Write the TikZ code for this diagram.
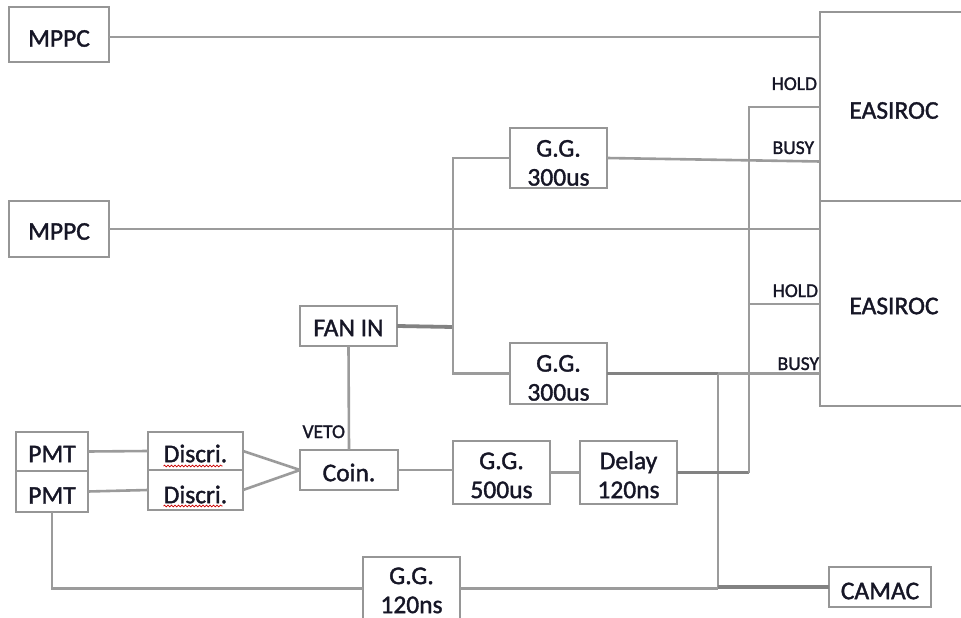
\documentclass[tikz,border=0pt]{standalone}
\usepackage{fontspec}
\setmainfont{Carlito}[BoldFont=Carlito, BoldFeatures={FakeBold=1.4}]
\usetikzlibrary{decorations.pathmorphing,calc}
\definecolor{ln}{RGB}{155,155,155}
\definecolor{lnd}{RGB}{130,130,130}
\definecolor{bx}{RGB}{150,150,150}
\definecolor{tx}{RGB}{22,22,38}
\newcommand\dn[2]{\raisebox{-#1}[\height][\depth]{#2}}
\newcommand\one[1]{\rule{0pt}{16.4bp}\smash{#1}}
\newcommand\twoln[2]{\vbox{\baselineskip=29bp\lineskiplimit=-100bp\halign{\hfil##\hfil\cr\rule{0pt}{16.4bp}\smash{#1}\cr#2\cr}}}
\tikzset{
  box/.style={draw=bx, line width=2.2bp, inner sep=0pt, outer sep=0pt, fill=white, text=tx,
    font=\fontsize{25.5bp}{29bp}\selectfont\bfseries},
  lab/.style={inner sep=0pt, outer sep=0pt, anchor=base east, text=tx,
    font=\fontsize{19.5bp}{22bp}\selectfont\bfseries},
  wire/.style={draw=ln, line width=2.6bp},
  thk/.style={draw=lnd, line width=3.8bp},
  squig/.style={draw=red!80!black, line width=0.7bp, decorate,
    decoration={snake, amplitude=0.9bp, segment length=3.5bp}}
}
\begin{document}
\begin{tikzpicture}[x=1bp,y=-1bp]
\useasboundingbox (0,0) rectangle (961,618);
\clip (0,0) rectangle (961,618);
\fill[white] (0,0) rectangle (961,618);

% boxes
\node[box, minimum width=100bp, minimum height=55bp] (mppc1) at (59,34.5) {\dn{4bp}{\one{MPPC}}};
\node[box, minimum width=100bp, minimum height=56bp] (mppc2) at (59,229) {\dn{2.5bp}{\one{MPPC}}};
\node[box, minimum width=148bp, minimum height=189bp] (easi1) at (894,106.5) {\dn{4bp}{\one{EASIROC}}};
\node[box, minimum width=148bp, minimum height=205bp] (easi2) at (894,303.5) {\dn{2.5bp}{\one{EASIROC}}};
\node[box, minimum width=97bp, minimum height=60bp] (gg1) at (558.5,158) {\dn{5bp}{\twoln{G.G.}{300us}}};
\node[box, minimum width=97bp, minimum height=61bp] (gg2) at (558.5,373.5) {\dn{4.5bp}{\twoln{G.G.}{300us}}};
\node[box, minimum width=97bp, minimum height=40bp] (fanin) at (348.5,326) {\dn{2bp}{\one{FAN IN}}};
\node[box, minimum width=98bp, minimum height=40bp] (coin) at (349,470) {\dn{3bp}{\one{Coin.}}};
\node[box, minimum width=72bp, minimum height=39bp] (pmt1) at (52,451.5) {\dn{2.5bp}{\one{PMT}}};
\node[box, minimum width=72bp, minimum height=41bp] (pmt2) at (52,491.5) {\dn{4bp}{\one{PMT}}};
\node[box, minimum width=95bp, minimum height=38bp] (discri1) at (195.5,451) {\dn{3bp}{\one{Discri.}}};
\node[box, minimum width=95bp, minimum height=40bp] (discri2) at (195.5,490) {\dn{5bp}{\one{Discri.}}};
\node[box, minimum width=97bp, minimum height=63bp] (gg500) at (501.5,472.5) {\dn{3bp}{\twoln{G.G.}{500us}}};
\node[box, minimum width=97bp, minimum height=63bp] (delay) at (628.5,472.5) {\dn{3bp}{\twoln{Delay}{120ns}}};
\node[box, minimum width=97bp, minimum height=63bp] (gg120) at (411.5,588.5) {\dn{2bp}{\twoln{G.G.}{120ns}}};
\node[box, minimum width=102bp, minimum height=40bp] (camac) at (880,587) {\dn{4bp}{\one{CAMAC}}};

% spell-check underlines
\draw[squig] ($(discri1.center)+(-32,15)$) -- ($(discri1.center)+(27,15)$);
\draw[squig] ($(discri2.center)+(-32,16)$) -- ($(discri2.center)+(27,16)$);

% labels
\node[lab] (hold1) at (817,90) {HOLD};
\node[lab] (busy1) at (814,154) {BUSY};
\node[lab] (hold2) at (818,297) {HOLD};
\node[lab] (busy2) at (819,370) {BUSY};
\node[lab] (veto) at (345,438) {VETO};

% junction coordinates
\coordinate (m1) at ([yshift=-2.5bp]mppc1.east);
\coordinate (vH) at (749,107);
\coordinate (h2) at (749,304);
\coordinate (b1) at (820,161.5);
\coordinate (cv) at (718,373.5);
\coordinate (fj) at (453,327);

% wires
\draw[wire] (m1) -- (m1 -| easi1.west);
\draw[wire] (mppc2.east) -- (mppc2.east -| easi2.west);
\draw[wire] (pmt1.east) -- (discri1.west);
\draw[wire] (pmt2.east) -- (discri2.west);
\draw[wire] (discri1.east) -- (coin.west);
\draw[wire] (discri2.east) -- (coin.west);
\draw[wire] (fanin.south) -- (coin.north);
\draw[wire] (coin.east) -- (coin.east -| gg500.west);
\draw[wire] (gg500.east) -- (delay.west);
\draw[thk] (fanin.east) -- (fj);
\draw[wire, line join=miter] (gg1.west) -- (gg1.west -| fj) -- (gg2.west -| fj) -- (gg2.west);
\draw[wire] (gg1.east) -- (b1);
\draw[wire] (gg2.east) -- (gg2.east -| easi2.west);
\draw[thk] (gg2.east) -- (cv);
\draw[wire] (cv) -- (cv |- camac.west);
\draw[thk] (cv |- camac.west) -- (camac.west);
\draw[wire] (gg120.east) -- (gg120.east -| cv);
\draw[wire, line join=miter] (pmt2.south) -- (pmt2.south |- gg120.west) -- (gg120.west);
\draw[thk] (delay.east) -- (delay.east -| vH);
\draw[wire] (delay.east -| vH) -- (vH) -- (vH -| easi1.west);
\draw[wire] (h2) -- (h2 -| easi2.west);
\end{tikzpicture}
\end{document}
